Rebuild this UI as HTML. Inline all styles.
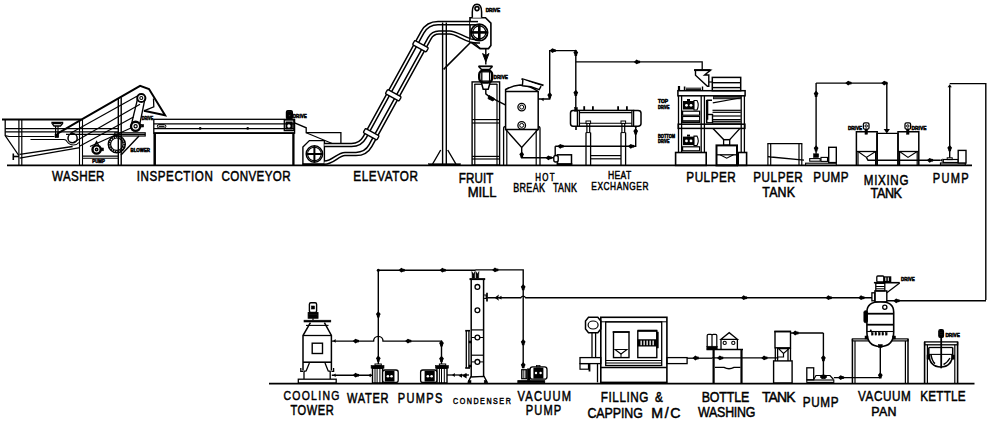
<!DOCTYPE html>
<html><head><meta charset="utf-8"><style>
html,body{margin:0;padding:0;background:#fff;width:990px;height:428px;overflow:hidden}
svg{display:block}
text{font-family:"Liberation Sans",sans-serif;fill:#000}
</style></head><body>
<svg width="990" height="428" viewBox="0 0 990 428" stroke="#000" fill="none" stroke-linecap="butt" stroke-linejoin="miter">
<line x1="7" y1="165.4" x2="972" y2="165.4" stroke-width="1.8"/>
<path d="M2 119.6 H81.5" stroke-width="2" fill="none"/>
<path d="M5.2 119.8 V135.6 L18.8 155.5" stroke-width="1.3" fill="none"/>
<line x1="18.9" y1="120" x2="18.9" y2="165" stroke-width="1.2"/>
<line x1="21.8" y1="120" x2="21.8" y2="165" stroke-width="1.2"/>
<line x1="79.5" y1="119.6" x2="79.5" y2="165" stroke-width="1.1"/>
<line x1="82.5" y1="119.6" x2="82.5" y2="165" stroke-width="1.1"/>
<line x1="5.2" y1="128.6" x2="118.3" y2="128.6" stroke-width="1.2"/>
<line x1="5.2" y1="131.8" x2="118.3" y2="131.8" stroke-width="1.2"/>
<path d="M5.2 135.6 L9 136.5 H54.5" stroke-width="1.1" fill="none"/>
<path d="M30.5 139.5 H64 Q66 139.5 67 141.5 Q69.5 145 73.5 145 Q77 145 79 142.5" stroke-width="1.1" fill="none"/>
<path d="M52 122.4 H62.6 V123.4 L60.5 126 H54 L52 123.4 Z" stroke-width="1.3" fill="#fff"/>
<line x1="53" y1="123.6" x2="61.6" y2="123.6" stroke-width="1.2"/>
<line x1="55.6" y1="126" x2="55.6" y2="137.5" stroke-width="1.2"/>
<line x1="58" y1="126" x2="58" y2="137.5" stroke-width="1.2"/>
<rect x="55" y="134" width="3.6" height="3.6" stroke-width="0.5" fill="#000" rx="0"/>
<path d="M19.6 154.4 L72.6 146.5" stroke-width="1.3" fill="none"/>
<path d="M19.6 158.1 L80 147.6" stroke-width="1.3" fill="none"/>
<line x1="13.3" y1="153.5" x2="13.3" y2="160" stroke-width="1.6"/>
<line x1="13.3" y1="156.5" x2="19" y2="156.5" stroke-width="1.6"/>
<path d="M57 133.8 L81.4 119.6 L140.1 85.8 L149 89 L165.1 115.3 L143.9 110.8" stroke-width="2" fill="none"/>
<path d="M153.5 98.6 L153.8 106.8 L143.9 110.8" stroke-width="1.3" fill="none"/>
<path d="M70 133.6 L137.8 95.8" stroke-width="1.2" fill="none"/>
<path d="M73 142.8 L140 104.2" stroke-width="1.2" fill="none"/>
<path d="M80 146 L133.5 117" stroke-width="1.2" fill="none"/>
<path d="M90 146.5 L131.5 127.8" stroke-width="1.2" fill="none"/>
<circle cx="72.6" cy="138.2" r="4.6" stroke-width="1.5" fill="none"/>
<line x1="118.3" y1="98.8" x2="118.3" y2="165" stroke-width="1.4"/>
<line x1="121.2" y1="97.2" x2="121.2" y2="165" stroke-width="1.4"/>
<circle cx="141.3" cy="98" r="4.1" stroke-width="2" fill="none"/>
<circle cx="141.3" cy="98" r="1.5" stroke-width="1.1" fill="none"/>
<circle cx="135.6" cy="126.3" r="4.6" stroke-width="2.4" fill="none"/>
<circle cx="135.6" cy="126.3" r="1.6" stroke-width="1.2" fill="none"/>
<line x1="137.5" y1="99" x2="131.5" y2="124" stroke-width="1.3"/>
<line x1="144.8" y1="99.5" x2="139.7" y2="124.5" stroke-width="1.3"/>
<rect x="141.4" y="124.5" width="2.2" height="2.5" stroke-width="0.6" fill="#000" rx="0"/>
<text x="141.8" y="119.6" font-size="4.5" font-weight="bold" stroke="#000" stroke-width="0.5" textLength="11.5" lengthAdjust="spacingAndGlyphs">DRIVE</text>
<line x1="66" y1="134.3" x2="145.2" y2="134.3" stroke-width="1.3"/>
<rect x="114.8" y="132.8" width="30.4" height="3.2" stroke-width="1.2" fill="none" rx="0"/>
<path d="M121 155 L139 136" stroke-width="1.4" fill="none"/>
<line x1="82.2" y1="156.2" x2="118.3" y2="156.2" stroke-width="1.3"/>
<line x1="82.2" y1="158.2" x2="118.3" y2="158.2" stroke-width="1.1"/>
<circle cx="116.8" cy="144.2" r="8.5" stroke-width="1.5" fill="none"/>
<circle cx="116.8" cy="144.2" r="6.2" stroke-width="1.2" fill="none"/>
<circle cx="116.8" cy="144.2" r="7.35" stroke-width="1.6" stroke-dasharray="1.3 1.1" fill="none"/>
<text x="130.5" y="152.3" font-size="4.5" font-weight="bold" stroke="#000" stroke-width="0.5" textLength="19.5" lengthAdjust="spacingAndGlyphs">BLOWER</text>
<circle cx="96.6" cy="149.5" r="4.1" stroke-width="2.4" fill="none"/>
<circle cx="96.6" cy="149.5" r="1.2" stroke-width="1.5" fill="none"/>
<path d="M94.5 145.5 L96.6 141.5 L98.7 145.5" stroke-width="1.2" fill="none"/>
<rect x="101" y="148" width="2.4" height="2.8" stroke-width="0.6" fill="#000" rx="0"/>
<text x="92.3" y="163.4" font-size="4.5" font-weight="bold" stroke="#000" stroke-width="0.5" textLength="12.5" lengthAdjust="spacingAndGlyphs">PUMP</text>
<rect x="153.8" y="119.3" width="140.8" height="13.8" stroke-width="1.3" fill="none" rx="0"/>
<line x1="153.8" y1="123.8" x2="294.6" y2="123.8" stroke-width="1.2"/>
<line x1="153.8" y1="128.7" x2="294.6" y2="128.7" stroke-width="1.2"/>
<line x1="154.7" y1="133" x2="154.7" y2="165" stroke-width="2.5"/>
<line x1="293.4" y1="133" x2="293.4" y2="165" stroke-width="2.3"/>
<rect x="157.3" y="124.6" width="8.6" height="3.4" stroke-width="1" fill="none" rx="1.7"/>
<line x1="158.7" y1="126.3" x2="164.5" y2="126.3" stroke-width="1.2"/>
<circle cx="200.2" cy="128.4" r="1.3" fill="#000" stroke="none"/>
<circle cx="247.7" cy="128.4" r="1.3" fill="#000" stroke="none"/>
<rect x="284.3" y="120" width="9.5" height="10.6" stroke-width="1.3" fill="none" rx="0"/>
<rect x="286" y="122" width="6.2" height="7" stroke-width="1" fill="#000" rx="0"/>
<circle cx="288.9" cy="126" r="1.7" fill="#fff" stroke="none"/>
<rect x="286.4" y="110.6" width="6" height="8.4" stroke-width="1.2" fill="#000" rx="1.5"/>
<rect x="287.6" y="111.8" width="3.6" height="1" fill="#fff"/><rect x="288.6" y="114.5" width="1.6" height="1.6" fill="#fff"/>
<text x="292.8" y="117.8" font-size="5" font-weight="bold" stroke="#000" stroke-width="0.5" textLength="14" lengthAdjust="spacingAndGlyphs">DRIVE</text>
<line x1="153.8" y1="133.1" x2="294.6" y2="133.1" stroke-width="1.7"/>
<path d="M294.6 122.9 L306.2 127.8 V132.7 H340.9 V144.2" stroke-width="1.3" fill="none"/>
<path d="M306.2 132.7 L334 144.2" stroke-width="1.2" fill="none"/>
<path d="M302.9 165 V147 L309.4 140.6 H324.4 V165" stroke-width="1.4" fill="none"/>
<circle cx="314.4" cy="154" r="8.2" stroke-width="1.5" fill="none"/>
<circle cx="314.4" cy="154" r="6.8" stroke-width="1.1" fill="none"/>
<line x1="314.4" y1="146" x2="314.4" y2="162" stroke-width="2"/>
<line x1="306.4" y1="154" x2="322.4" y2="154" stroke-width="2"/>
<rect x="303" y="163.4" width="21.4" height="2" stroke-width="0.5" fill="#000" rx="0"/>
<path d="M470.5 23.2 H438 Q427.5 23.2 422.4 32.4 L364.8 137.1 Q360.5 145 351.5 145 H324.4" stroke="#000" stroke-width="4.7" fill="none" stroke-linejoin="round"/>
<path d="M470.5 23.2 H438 Q427.5 23.2 422.4 32.4 L364.8 137.1 Q360.5 145 351.5 145 H324.4" stroke="#fff" stroke-width="1.7" fill="none" stroke-linejoin="round"/>
<path d="M470.8 40.4 C462 38 456 32.5 449.7 32.5 H439 Q432.7 32.5 429.5 38.3 L370.5 145.5 Q365.8 154 356 154 H345 C338 154 333 162.7 324.4 162.7" stroke="#000" stroke-width="4.7" fill="none" stroke-linejoin="round"/>
<path d="M470.8 40.4 C462 38 456 32.5 449.7 32.5 H439 Q432.7 32.5 429.5 38.3 L370.5 145.5 Q365.8 154 356 154 H345 C338 154 333 162.7 324.4 162.7" stroke="#fff" stroke-width="1.7" fill="none" stroke-linejoin="round"/>
<g transform="translate(420.5 46.2) rotate(28.8)"><rect x="-7.8" y="-2.4" width="15.6" height="4.8" rx="1" fill="#fff" stroke="#000" stroke-width="1.4"/></g>
<g transform="translate(393.3 95.3) rotate(28.8)"><rect x="-7.8" y="-2.4" width="15.6" height="4.8" rx="1" fill="#fff" stroke="#000" stroke-width="1.4"/></g>
<g transform="translate(371.2 134.2) rotate(28.8)"><rect x="-7.8" y="-2.4" width="15.6" height="4.8" rx="1" fill="#fff" stroke="#000" stroke-width="1.4"/></g>
<line x1="442.6" y1="22.5" x2="442.6" y2="165" stroke-width="1.4"/>
<line x1="446.3" y1="22.5" x2="446.3" y2="165" stroke-width="1.4"/>
<path d="M432.6 164 L440.7 150 M447.7 150 L455.9 164" stroke-width="1.4" fill="none"/>
<rect x="428.5" y="163.6" width="32" height="1.8" stroke-width="0.4" fill="#000" rx="0"/>
<path d="M443.6 69.4 L472 41" stroke-width="1.6" fill="none"/>
<path d="M470 17.7 H485.5 L490.9 23.1 V45.5 L488.5 48.6 H480 L470 41.7 Z" stroke-width="1.6" fill="#fff"/>
<path d="M470 23.2 H478" stroke="#000" stroke-width="4.7" fill="none" stroke-linejoin="round"/>
<path d="M470 23.2 H478" stroke="#fff" stroke-width="1.7" fill="none" stroke-linejoin="round"/>
<path d="M470 40.4 C474 41.5 477 41.6 480 41.5" stroke="#000" stroke-width="4.7" fill="none" stroke-linejoin="round"/>
<path d="M470 40.4 C474 41.5 477 41.6 480 41.5" stroke="#fff" stroke-width="1.7" fill="none" stroke-linejoin="round"/>
<circle cx="479.3" cy="32.4" r="8.3" stroke-width="1.8" fill="none"/>
<circle cx="479.3" cy="32.4" r="6.5" stroke-width="1.2" fill="none"/>
<line x1="479.3" y1="24.2" x2="479.3" y2="40.6" stroke-width="2.6"/>
<line x1="471" y1="32.4" x2="487.6" y2="32.4" stroke-width="2.6"/>
<path d="M474.5 42.8 L480.5 48.6" stroke-width="1.1" fill="none"/>
<path d="M472.3 17.7 V12 Q472.3 4.2 477 4.2 Q481.6 4.2 481.6 12 V17.7" stroke-width="1.5" fill="#fff"/>
<circle cx="477" cy="8.6" r="2" stroke-width="1.6" fill="none"/>
<text x="485.7" y="11.8" font-size="5" font-weight="bold" stroke="#000" stroke-width="0.5" textLength="14.5" lengthAdjust="spacingAndGlyphs">DRIVE</text>
<line x1="485.8" y1="48.6" x2="485.8" y2="64.5" stroke-width="1.4"/>
<path d="M482.6 53.5 L485.8 55.5 L489 53.5 L485.8 61.8 Z" fill="#000" stroke="#000" stroke-width="1"/>
<rect x="472.1" y="81.9" width="27.5" height="83.2" stroke-width="1.4" fill="none" rx="0"/>
<line x1="474.8" y1="84" x2="474.8" y2="165" stroke-width="1.2"/>
<line x1="497" y1="84" x2="497" y2="165" stroke-width="1.2"/>
<line x1="472.1" y1="119.6" x2="499.6" y2="119.6" stroke-width="1.2"/>
<line x1="472.1" y1="123" x2="499.6" y2="123" stroke-width="1.2"/>
<line x1="472.1" y1="156.4" x2="499.6" y2="156.4" stroke-width="1.2"/>
<line x1="472.1" y1="159" x2="499.6" y2="159" stroke-width="1.2"/>
<line x1="474.4" y1="84.2" x2="497.2" y2="84.2" stroke-width="1.3"/>
<path d="M481.5 83 L483.2 89.2 H488.2 L490 83" stroke-width="1.5" fill="#fff"/>
<line x1="478.5" y1="66.3" x2="492.5" y2="66.3" stroke-width="1.8"/>
<path d="M478.5 66.3 L481.5 69.6 H489.5 L492.5 66.3" stroke-width="1.5" fill="none"/>
<rect x="479.2" y="70.3" width="13" height="12.3" rx="4.5" stroke-width="2.4" fill="#fff"/>
<rect x="481.8" y="71.8" width="7.8" height="9.3" stroke-width="1.3" fill="none" rx="0"/>
<text x="493.5" y="79" font-size="5.3" font-weight="bold" stroke="#000" stroke-width="0.5" textLength="14.5" lengthAdjust="spacingAndGlyphs">DRIVE</text>
<path d="M485.8 89.2 V93.8 L489.5 96.8 L505.3 104.9" stroke-width="1.4" fill="none"/>
<path d="M489 95.5 L494.3 98.4 L493 101 L488 98.6 Z" fill="#000"/>
<path d="M505.6 129.4 V89.5 Q513 85.5 520 85 Q530 85.5 538.2 91.5 V129.4 Z" stroke-width="1.5" fill="none"/>
<line x1="505.6" y1="91.5" x2="538.2" y2="91.5" stroke-width="1.4"/>
<path d="M505.6 129.4 L521.7 147.4 L538 129.4" stroke-width="1.4" fill="none"/>
<path d="M503.6 165 V128.5 Q503.6 126.3 505.6 126.3" stroke-width="1.3" fill="none"/>
<path d="M540 165 V128.5 Q540 126.3 538.2 126.3" stroke-width="1.3" fill="none"/>
<line x1="506.8" y1="130" x2="506.8" y2="165" stroke-width="1.2"/>
<line x1="536.2" y1="130" x2="536.2" y2="165" stroke-width="1.2"/>
<circle cx="521.7" cy="107.1" r="3.8" stroke-width="1.3" fill="none"/>
<circle cx="521.7" cy="107.1" r="2" stroke-width="1" fill="none"/>
<circle cx="521.7" cy="125.4" r="3.8" stroke-width="1.3" fill="none"/>
<circle cx="521.7" cy="125.4" r="2" stroke-width="1" fill="none"/>
<path d="M521.5 78.9 L543.5 85.4" stroke-width="1.9" fill="none"/>
<path d="M522.9 79.4 L522.4 85.8 Q531 86 539.2 89.6 L541.1 86.2" stroke-width="1.4" fill="#fff"/>
<path d="M521.7 147.4 V157.8 H554" stroke-width="1.4" fill="none"/>
<path d="M521.70 151.40 L519.30 154.20 L520.20 155.80 L520.50 157.70 L522.90 157.70 L523.20 155.80 L524.10 154.20Z" fill="#000" stroke="none"/>
<path d="M545.50 157.80 L548.30 155.40 L549.90 156.30 L551.80 156.60 L551.80 159.00 L549.90 159.30 L548.30 160.20Z" fill="#000" stroke="none"/>
<path d="M538.2 99 H549.7 V50.6 H575.8 V108.4" stroke-width="1.4" fill="none"/>
<path d="M549.60 50.60 L552.40 48.20 L554.00 49.10 L555.90 49.40 L555.90 51.80 L554.00 52.10 L552.40 53.00Z" fill="#000" stroke="none"/>
<path d="M575.80 49.60 L573.40 52.40 L574.30 54.00 L574.60 55.90 L577.00 55.90 L577.30 54.00 L578.20 52.40Z" fill="#000" stroke="none"/>
<path d="M575.80 89.80 L573.40 92.60 L574.30 94.20 L574.60 96.10 L577.00 96.10 L577.30 94.20 L578.20 92.60Z" fill="#000" stroke="none"/>
<path d="M549.70 92.10 L547.30 94.90 L548.20 96.50 L548.50 98.40 L550.90 98.40 L551.20 96.50 L552.10 94.90Z" fill="#000" stroke="none"/>
<path d="M543.6 97.68 L543.6 101.32 L541 99.5Z" fill="#000" stroke="none"/>
<path d="M575.8 61.9 H702.2 V69.6" stroke-width="1.3" fill="none"/>
<path d="M633.80 61.90 L636.60 59.50 L638.20 60.40 L640.10 60.70 L640.10 63.10 L638.20 63.40 L636.60 64.30Z" fill="#000" stroke="none"/>
<rect x="557.5" y="154.8" width="14" height="9.7" stroke-width="1.5" fill="#fff"/>
<rect x="553.8" y="155.5" width="4.4" height="6.5" rx="2" stroke-width="1.4" fill="#fff"/>
<rect x="557" y="163.3" width="15" height="1.6" stroke-width="0.5" fill="#000" rx="0"/>
<path d="M555.2 146.3 V155.5" stroke-width="1.4" fill="none"/>
<path d="M555.2 146.3 H635.7 V126.2" stroke-width="1.4" fill="none"/>
<path d="M557.40 146.30 L560.20 143.90 L561.80 144.80 L563.70 145.10 L563.70 147.50 L561.80 147.80 L560.20 148.70Z" fill="#000" stroke="none"/>
<path d="M627.90 146.30 L630.70 143.90 L632.30 144.80 L634.20 145.10 L634.20 147.50 L632.30 147.80 L630.70 148.70Z" fill="#000" stroke="none"/>
<path d="M635.70 128.30 L633.30 131.10 L634.20 132.70 L634.50 134.60 L636.90 134.60 L637.20 132.70 L638.10 131.10Z" fill="#000" stroke="none"/>
<path d="M633.95 130.8 L637.45 130.8 L635.7 128.3Z" fill="#000" stroke="none"/>
<rect x="577.5" y="110.4" width="56" height="15.8" stroke-width="1.5" fill="none" rx="0"/>
<line x1="579.5" y1="112.6" x2="631.8" y2="112.6" stroke-width="1.1"/>
<line x1="579.5" y1="123.3" x2="631.8" y2="123.3" stroke-width="1.1"/>
<path d="M577.5 110.4 H573 Q570.5 110.4 570.5 113 V123.6 Q570.5 126.2 573 126.2 H577.5" stroke-width="1.5" fill="none"/>
<path d="M633.5 110.4 H638 Q641 110.4 641 113 V123.6 Q641 126.2 638 126.2 H633.5" stroke-width="1.5" fill="none"/>
<line x1="579.5" y1="110.4" x2="579.5" y2="126.2" stroke-width="1.1"/>
<line x1="631.8" y1="110.4" x2="631.8" y2="126.2" stroke-width="1.1"/>
<line x1="584.2" y1="106.2" x2="584.2" y2="110.4" stroke-width="1.8"/>
<line x1="592.9" y1="106.2" x2="592.9" y2="110.4" stroke-width="1.8"/>
<line x1="618.1" y1="106.2" x2="618.1" y2="110.4" stroke-width="1.8"/>
<line x1="626.9" y1="106.2" x2="626.9" y2="110.4" stroke-width="1.8"/>
<rect x="574.6" y="107.6" width="2.8" height="3.6" stroke-width="0.5" fill="#000" rx="0"/>
<line x1="576" y1="126.2" x2="576" y2="130" stroke-width="1.6"/>
<line x1="635.7" y1="126.2" x2="635.7" y2="128" stroke-width="1.6"/>
<rect x="586" y="121" width="4.6" height="2.4" stroke-width="1" fill="#fff" rx="0"/>
<line x1="586.9" y1="123.4" x2="586.9" y2="132.6" stroke-width="1.2"/>
<line x1="589.7" y1="123.4" x2="589.7" y2="132.6" stroke-width="1.2"/>
<line x1="586" y1="132.6" x2="586" y2="165" stroke-width="1.3"/>
<line x1="590.6" y1="132.6" x2="590.6" y2="165" stroke-width="1.3"/>
<line x1="586" y1="132.6" x2="590.6" y2="132.6" stroke-width="1"/>
<rect x="621" y="121" width="4.6" height="2.4" stroke-width="1" fill="#fff" rx="0"/>
<line x1="621.9" y1="123.4" x2="621.9" y2="132.6" stroke-width="1.2"/>
<line x1="624.7" y1="123.4" x2="624.7" y2="132.6" stroke-width="1.2"/>
<line x1="621" y1="132.6" x2="621" y2="165" stroke-width="1.3"/>
<line x1="625.6" y1="132.6" x2="625.6" y2="165" stroke-width="1.3"/>
<line x1="621" y1="132.6" x2="625.6" y2="132.6" stroke-width="1"/>
<line x1="590.6" y1="155.6" x2="621" y2="155.6" stroke-width="1.2"/>
<line x1="590.6" y1="158.8" x2="621" y2="158.8" stroke-width="1.2"/>
<path d="M694.1 70.1 H710.6 L704.6 75 H708.8 V86.2 L707.4 86.2 L695.5 75.3 V70.1" stroke-width="1.4" fill="none"/>
<line x1="694.1" y1="70.1" x2="710.6" y2="70.1" stroke-width="2"/>
<line x1="708.8" y1="82" x2="712.3" y2="82" stroke-width="1.2"/>
<rect x="712.3" y="77.4" width="28.4" height="13.3" stroke-width="1.5" fill="none" rx="0"/>
<line x1="712.3" y1="82.7" x2="740.7" y2="82.7" stroke-width="1.4"/>
<line x1="712.3" y1="87.6" x2="740.7" y2="87.6" stroke-width="1.4"/>
<rect x="677.9" y="90.7" width="67.2" height="5.1" stroke-width="1.5" fill="none" rx="0"/>
<rect x="678.2" y="124.2" width="66.7" height="4.2" stroke-width="1.5" fill="none" rx="0"/>
<line x1="678.5" y1="95.8" x2="678.5" y2="152.5" stroke-width="1.3"/>
<line x1="681.6" y1="95.8" x2="681.6" y2="152.5" stroke-width="1.3"/>
<line x1="701.2" y1="95.8" x2="701.2" y2="152.5" stroke-width="1.3"/>
<line x1="704.4" y1="95.8" x2="704.4" y2="152.5" stroke-width="1.3"/>
<line x1="741.2" y1="95.8" x2="741.2" y2="152.5" stroke-width="1.3"/>
<line x1="744.4" y1="95.8" x2="744.4" y2="152.5" stroke-width="1.3"/>
<line x1="679" y1="86" x2="679" y2="90.7" stroke-width="2.2"/>
<line x1="684.6" y1="86.5" x2="684.6" y2="90.7" stroke-width="1.6"/>
<line x1="702.5" y1="86.5" x2="702.5" y2="90.7" stroke-width="1.4"/>
<line x1="686" y1="88.2" x2="701" y2="88.2" stroke-width="1"/>
<line x1="686" y1="89.6" x2="701" y2="89.6" stroke-width="1"/>
<path d="M683 101 H694 V109.5 H683 Z" fill="#000" stroke="none"/>
<path d="M694 100.5 H697 Q699.5 105 697 110 H694 Z" fill="none" stroke="#000" stroke-width="1.1"/>
<circle cx="686.5" cy="105.3" r="1.4" fill="#fff" stroke="none"/>
<circle cx="691" cy="105.3" r="1.4" fill="#fff" stroke="none"/>
<rect x="687" y="99" width="3" height="2" fill="#000" stroke="none"/>
<rect x="682.6" y="111.2" width="17" height="4" stroke-width="1.2" fill="none" rx="0"/>
<path d="M683 136.6 H694 V145.1 H683 Z" fill="#000" stroke="none"/>
<path d="M694 136.1 H697 Q699.5 140.6 697 145.6 H694 Z" fill="none" stroke="#000" stroke-width="1.1"/>
<circle cx="686.5" cy="140.9" r="1.4" fill="#fff" stroke="none"/>
<circle cx="691" cy="140.9" r="1.4" fill="#fff" stroke="none"/>
<rect x="687" y="134.6" width="3" height="2" fill="#000" stroke="none"/>
<rect x="682.6" y="146.79999999999998" width="17" height="4" stroke-width="1.2" fill="none" rx="0"/>
<rect x="682.6" y="116.5" width="17" height="6" stroke-width="1.1" fill="none" rx="0"/>
<line x1="683" y1="121" x2="699.5" y2="121" stroke-width="1.6"/>
<path d="M707.5 119.7 V100.2 H712" stroke-width="1.6" fill="none"/>
<path d="M706.5 100 V122.5" stroke-width="1.2" fill="none"/>
<rect x="706.7" y="114.5" width="5.8" height="8.3" stroke-width="1.4" fill="none" rx="0"/>
<rect x="713.5" y="96.6" width="27" height="2.2" stroke-width="0.8" fill="#555" rx="0"/>
<path d="M712.8 102.8 L739.8 98" stroke-width="1.2" fill="none"/>
<line x1="712.5" y1="110.3" x2="740.8" y2="110.3" stroke-width="1.2"/>
<line x1="712.5" y1="112.3" x2="740.8" y2="112.3" stroke-width="1.2"/>
<line x1="712.5" y1="116" x2="740.8" y2="116" stroke-width="1.2"/>
<line x1="712.5" y1="119.6" x2="740.8" y2="119.6" stroke-width="1.2"/>
<line x1="712.5" y1="121.3" x2="740.8" y2="121.3" stroke-width="1.2"/>
<line x1="712.5" y1="123.1" x2="740.8" y2="123.1" stroke-width="1.2"/>
<path d="M713 128.4 L723.6 139.6 H729.7 L740 128.4" stroke-width="1.4" fill="none"/>
<rect x="723.6" y="139.6" width="6.1" height="5.6" stroke-width="1.3" fill="none" rx="0"/>
<rect x="716.5" y="145.4" width="20.5" height="20" stroke-width="2" fill="none" rx="0"/>
<line x1="716.5" y1="154.8" x2="737" y2="154.8" stroke-width="1.3"/>
<path d="M720 154.8 L726.7 158.2 L733.5 154.8" stroke-width="1.2" fill="none"/>
<rect x="675.6" y="152.5" width="30.6" height="12.9" stroke-width="1.6" fill="none" rx="0"/>
<rect x="738.2" y="152.5" width="8.4" height="12.9" stroke-width="1.6" fill="none" rx="0"/>
<text x="658" y="103.2" font-size="4.8" font-weight="bold" stroke="#000" stroke-width="0.5" textLength="10" lengthAdjust="spacingAndGlyphs">TOP</text>
<text x="658" y="108.8" font-size="4.8" font-weight="bold" stroke="#000" stroke-width="0.5" textLength="11.5" lengthAdjust="spacingAndGlyphs">DRIVE</text>
<text x="658" y="137.8" font-size="4.8" font-weight="bold" stroke="#000" stroke-width="0.5" textLength="17" lengthAdjust="spacingAndGlyphs">BOTTOM</text>
<text x="658" y="143.4" font-size="4.8" font-weight="bold" stroke="#000" stroke-width="0.5" textLength="11.5" lengthAdjust="spacingAndGlyphs">DRIVE</text>
<line x1="767.3" y1="143.7" x2="802.4" y2="143.7" stroke-width="1.3"/>
<line x1="767.9" y1="143.7" x2="767.9" y2="165" stroke-width="1.2"/>
<line x1="770.7" y1="143.7" x2="770.7" y2="165" stroke-width="1.2"/>
<line x1="799" y1="143.7" x2="799" y2="165" stroke-width="1.2"/>
<line x1="801.8" y1="143.7" x2="801.8" y2="165" stroke-width="1.2"/>
<path d="M767.9 156.6 L771 157 L804 160.2" stroke-width="1.3" fill="none"/>
<rect x="805.6" y="163.2" width="30.7" height="2.3" stroke-width="1.1" fill="none" rx="0"/>
<rect x="809.7" y="158.6" width="10.5" height="2.6" stroke-width="1.1" fill="none" rx="0"/>
<rect x="821" y="157.4" width="6.5" height="4" stroke-width="1.1" fill="none" rx="0"/>
<rect x="813.6" y="153.8" width="5" height="3.6" stroke-width="0.6" fill="#000" rx="0"/>
<rect x="828.7" y="147.3" width="7.6" height="15.3" stroke-width="1.4" fill="#fff" rx="0"/>
<line x1="816.1" y1="153.8" x2="816.1" y2="83.1" stroke-width="1.4"/>
<line x1="816.1" y1="83.1" x2="886.2" y2="83.1" stroke-width="1.4"/>
<path d="M816.10 90.60 L813.70 93.40 L814.60 95.00 L814.90 96.90 L817.30 96.90 L817.60 95.00 L818.50 93.40Z" fill="#000" stroke="none"/>
<path d="M816.10 145.30 L813.70 148.10 L814.60 149.70 L814.90 151.60 L817.30 151.60 L817.60 149.70 L818.50 148.10Z" fill="#000" stroke="none"/>
<path d="M845.30 83.10 L848.10 80.70 L849.70 81.60 L851.60 81.90 L851.60 84.30 L849.70 84.60 L848.10 85.50Z" fill="#000" stroke="none"/>
<path d="M881.30 83.10 L884.10 80.70 L885.70 81.60 L887.60 81.90 L887.60 84.30 L885.70 84.60 L884.10 85.50Z" fill="#000" stroke="none"/>
<path d="M886.8 83.1 V130" stroke-width="1.4" fill="none"/>
<path d="M883.65 129.1 L889.9499999999999 129.1 L886.8 133.6Z" fill="#000" stroke="none"/>
<path d="M856.4 165 V131.7 H877.1999999999999 V165" stroke-width="1.5" fill="none"/>
<line x1="858.0" y1="151.5" x2="858.0" y2="165" stroke-width="1.2"/>
<line x1="875.6" y1="151.5" x2="875.6" y2="165" stroke-width="1.2"/>
<line x1="856.4" y1="151.5" x2="877.1999999999999" y2="151.5" stroke-width="1.3"/>
<path d="M858.0 151.5 L866.4 157.4 L875.6 151.5" stroke-width="1.2" fill="none"/>
<rect x="863.4" y="122.8" width="5.6" height="6.4" rx="1.5" stroke-width="1.3" fill="#fff"/>
<rect x="865.0" y="129.2" width="2.4" height="5" stroke-width="0.6" fill="#000" rx="0"/>
<circle cx="866.1999999999999" cy="126" r="1.2" stroke-width="1" fill="none"/>
<path d="M898 165 V131.7 H918.8 V165" stroke-width="1.5" fill="none"/>
<line x1="899.6" y1="151.5" x2="899.6" y2="165" stroke-width="1.2"/>
<line x1="917.2" y1="151.5" x2="917.2" y2="165" stroke-width="1.2"/>
<line x1="898" y1="151.5" x2="918.8" y2="151.5" stroke-width="1.3"/>
<path d="M899.6 151.5 L908 157.4 L917.2 151.5" stroke-width="1.2" fill="none"/>
<rect x="905" y="122.8" width="5.6" height="6.4" rx="1.5" stroke-width="1.3" fill="#fff"/>
<rect x="906.6" y="129.2" width="2.4" height="5" stroke-width="0.6" fill="#000" rx="0"/>
<circle cx="907.8" cy="126" r="1.2" stroke-width="1" fill="none"/>
<path d="M876.9 165 V133.4 H898 V165" stroke-width="1.4" fill="none"/>
<text x="847.9" y="129.6" font-size="5.2" font-weight="bold" stroke="#000" stroke-width="0.5" textLength="14.2" lengthAdjust="spacingAndGlyphs">DRIVE</text>
<text x="911.5" y="129.6" font-size="5.2" font-weight="bold" stroke="#000" stroke-width="0.5" textLength="14.9" lengthAdjust="spacingAndGlyphs">DRIVE</text>
<path d="M866.4 157.4 L868 160.3 H940.5" stroke-width="1.4" fill="none"/>
<path d="M926.80 160.30 L929.60 157.90 L931.20 158.80 L933.10 159.10 L933.10 161.50 L931.20 161.80 L929.60 162.70Z" fill="#000" stroke="none"/>
<path d="M942.6 158.48000000000002 L942.6 162.12 L940 160.3Z" fill="#000" stroke="none"/>
<rect x="940.5" y="163" width="24.8" height="2.2" stroke-width="1.2" fill="none" rx="0"/>
<rect x="943.3" y="159.5" width="14.9" height="3" stroke-width="1.2" fill="none" rx="0"/>
<rect x="947.2" y="157.8" width="5" height="1.8" stroke-width="1" fill="none" rx="0"/>
<rect x="958.2" y="150.4" width="7.8" height="12.6" stroke-width="1.4" fill="#fff" rx="0"/>
<line x1="949.7" y1="157.8" x2="949.7" y2="86" stroke-width="1.4"/>
<path d="M949.70 145.00 L947.30 147.80 L948.20 149.40 L948.50 151.30 L950.90 151.30 L951.20 149.40 L952.10 147.80Z" fill="#000" stroke="none"/>
<path d="M947.6 87.2 L951.8000000000001 87.2 L949.7 84.2Z" fill="#000" stroke="none"/>
<path d="M949.7 83.6 H985.8 V300" stroke-width="1.4" fill="none"/>
<line x1="269" y1="383.6" x2="974.5" y2="383.6" stroke-width="1.8"/>
<rect x="309.4" y="302.8" width="7.2" height="9.6" stroke-width="1.4" fill="none" rx="1.5"/>
<rect x="311.5" y="306" width="3" height="3" stroke-width="0.6" fill="#000" rx="0"/>
<rect x="308.2" y="312.6" width="9.8" height="5.6" stroke-width="1" fill="#000" rx="0"/>
<rect x="309" y="314.8" width="8.2" height="1" fill="#fff"/>
<line x1="313" y1="318.2" x2="313" y2="320" stroke-width="1.2"/>
<rect x="304" y="320.2" width="26.8" height="1.8" stroke-width="0.6" fill="#000" rx="0"/>
<path d="M310.4 322.7 L303 335.5 V370.6 M331.4 370.6 V335.5 L324.4 322.7" stroke-width="1.5" fill="none"/>
<line x1="303" y1="335.5" x2="331.4" y2="335.5" stroke-width="1.3"/>
<line x1="306" y1="325.4" x2="328.5" y2="325.4" stroke-width="1.1"/>
<line x1="303" y1="362.2" x2="331.4" y2="362.2" stroke-width="1.6"/>
<rect x="312.2" y="343.2" width="10.3" height="10.3" stroke-width="1.4" fill="none" rx="0"/>
<path d="M309.4 363 L306.1 370.9 L304 371.3 V379 M325 363 L328.2 370.9 L330.2 371.3 V379" stroke-width="1.3" fill="none"/>
<path d="M300.8 368 V371.3 H303 M333.6 368 V371.3 H331.4" stroke-width="1.3" fill="none"/>
<rect x="298.3" y="379.2" width="37.9" height="3.8" stroke-width="1.3" fill="none" rx="0"/>
<path d="M331.8 341.1 H373.6 A4.7 4.7 0 0 1 383 341.1 H441.5 V364" stroke-width="1.4" fill="none"/>
<path d="M335.6 339.08 L335.6 342.71999999999997 L333 340.9Z" fill="#000" stroke="none"/>
<path d="M352.70 341.10 L355.50 338.70 L357.10 339.60 L359.00 339.90 L359.00 342.30 L357.10 342.60 L355.50 343.50Z" fill="#000" stroke="none"/>
<path d="M405.10 341.10 L407.90 338.70 L409.50 339.60 L411.40 339.90 L411.40 342.30 L409.50 342.60 L407.90 343.50Z" fill="#000" stroke="none"/>
<path d="M441.50 340.30 L439.10 343.10 L440.00 344.70 L440.30 346.60 L442.70 346.60 L443.00 344.70 L443.90 343.10Z" fill="#000" stroke="none"/>
<path d="M441.50 355.80 L439.10 358.60 L440.00 360.20 L440.30 362.10 L442.70 362.10 L443.00 360.20 L443.90 358.60Z" fill="#000" stroke="none"/>
<path d="M331.8 375.2 H372.2" stroke-width="1.4" fill="none"/>
<path d="M335.6 373.38 L335.6 377.02 L333 375.2Z" fill="#000" stroke="none"/>
<path d="M352.70 375.20 L355.50 372.80 L357.10 373.70 L359.00 374.00 L359.00 376.40 L357.10 376.70 L355.50 377.60Z" fill="#000" stroke="none"/>
<path d="M378.3 364 V270.2 H475.2" stroke-width="1.4" fill="none"/>
<path d="M378.30 311.20 L375.90 314.00 L376.80 315.60 L377.10 317.50 L379.50 317.50 L379.80 315.60 L380.70 314.00Z" fill="#000" stroke="none"/>
<path d="M378.30 355.40 L375.90 358.20 L376.80 359.80 L377.10 361.70 L379.50 361.70 L379.80 359.80 L380.70 358.20Z" fill="#000" stroke="none"/>
<path d="M398.50 270.20 L401.30 267.80 L402.90 268.70 L404.80 269.00 L404.80 271.40 L402.90 271.70 L401.30 272.60Z" fill="#000" stroke="none"/>
<path d="M439.50 270.20 L442.30 267.80 L443.90 268.70 L445.80 269.00 L445.80 271.40 L443.90 271.70 L442.30 272.60Z" fill="#000" stroke="none"/>
<rect x="372.5" y="368.2" width="10.1" height="14.8" stroke-width="1.4" fill="none" rx="0"/>
<line x1="375.0" y1="368.2" x2="375.0" y2="383" stroke-width="1"/>
<line x1="377.1" y1="368.2" x2="377.1" y2="383" stroke-width="1"/>
<line x1="379.9" y1="368.2" x2="379.9" y2="383" stroke-width="1"/>
<rect x="371.1" y="365.5" width="12.9" height="2.7" stroke-width="0.6" fill="#000" rx="0"/>
<rect x="375.0" y="364" width="6.3" height="1.6" stroke-width="1" fill="none" rx="0"/>
<rect x="382.6" y="370" width="15.599999999999966" height="12.399999999999977" rx="2.2" stroke-width="1.3" fill="#fff"/>
<rect x="384.8" y="370.8" width="9.67199999999998" height="10.799999999999978" fill="#000" stroke="none"/>
<circle cx="387.92" cy="376.2" r="1.3" fill="#fff" stroke="none"/>
<circle cx="391.508" cy="376.2" r="1.3" fill="#fff" stroke="none"/>
<rect x="436.9" y="368.2" width="10.1" height="14.8" stroke-width="1.4" fill="none" rx="0"/>
<line x1="439.4" y1="368.2" x2="439.4" y2="383" stroke-width="1"/>
<line x1="441.5" y1="368.2" x2="441.5" y2="383" stroke-width="1"/>
<line x1="444.29999999999995" y1="368.2" x2="444.29999999999995" y2="383" stroke-width="1"/>
<rect x="435.5" y="365.5" width="12.9" height="2.7" stroke-width="0.6" fill="#000" rx="0"/>
<rect x="439.4" y="364" width="6.3" height="1.6" stroke-width="1" fill="none" rx="0"/>
<rect x="420.6" y="370" width="16.299999999999955" height="12.399999999999977" rx="2.2" stroke-width="1.3" fill="#fff"/>
<rect x="424.594" y="370.8" width="10.105999999999971" height="10.799999999999978" fill="#000" stroke="none"/>
<circle cx="427.854" cy="376.2" r="1.3" fill="#fff" stroke="none"/>
<circle cx="431.60299999999995" cy="376.2" r="1.3" fill="#fff" stroke="none"/>
<path d="M370.8 373.44 L370.8 377.35999999999996 L368 375.4Z" fill="#000" stroke="none"/>
<path d="M447 375 H469" stroke-width="1.3" fill="none"/>
<path d="M454.8 373.04 L454.8 376.96 L452 375Z" fill="#000" stroke="none"/>
<path d="M464.9 373.18 L464.9 376.82 L467.5 375Z" fill="#000" stroke="none"/>
<circle cx="378.3" cy="270.2" r="1.5" fill="#000" stroke="none"/>
<line x1="471.2" y1="279.5" x2="471.2" y2="377" stroke-width="1.5"/>
<line x1="483.6" y1="279.5" x2="483.6" y2="377" stroke-width="1.5"/>
<line x1="469.5" y1="279.1" x2="485.2" y2="279.1" stroke-width="2"/>
<path d="M472.09999999999997 278 V275 L471.79999999999995 271.5 L473.4 274 L475.0 271.5 L474.7 275 V278 Z" fill="#000" stroke="#000" stroke-width="0.5"/>
<path d="M476.09999999999997 278 V275 L475.79999999999995 271.5 L477.4 274 L479.0 271.5 L478.7 275 V278 Z" fill="#000" stroke="#000" stroke-width="0.5"/>
<path d="M475.2 270.2 V271" stroke-width="1" fill="none"/>
<circle cx="477.4" cy="286.9" r="2.4" stroke-width="1.3" fill="none"/>
<circle cx="477.4" cy="310.3" r="2.4" stroke-width="1.3" fill="none"/>
<circle cx="477.4" cy="337.5" r="2.4" stroke-width="1.3" fill="none"/>
<circle cx="477.4" cy="361.9" r="2.4" stroke-width="1.3" fill="none"/>
<line x1="471.2" y1="337.5" x2="475" y2="337.5" stroke-width="1"/>
<line x1="479.8" y1="337.5" x2="483.6" y2="337.5" stroke-width="1"/>
<line x1="471.2" y1="361.9" x2="475" y2="361.9" stroke-width="1"/>
<line x1="479.8" y1="361.9" x2="483.6" y2="361.9" stroke-width="1"/>
<line x1="471.2" y1="329.9" x2="483.6" y2="329.9" stroke-width="1.2"/>
<line x1="471.2" y1="355.2" x2="483.6" y2="355.2" stroke-width="1.2"/>
<line x1="466.3" y1="331" x2="466.3" y2="368" stroke-width="1.3"/>
<line x1="468.9" y1="331" x2="468.9" y2="368" stroke-width="1.3"/>
<line x1="465.2" y1="330.7" x2="470" y2="330.7" stroke-width="1.6"/>
<line x1="465.2" y1="368" x2="470" y2="368" stroke-width="1.6"/>
<rect x="469" y="341" width="2.2" height="2" stroke-width="0.5" fill="#000" rx="0"/>
<rect x="469" y="365" width="2.2" height="2" stroke-width="0.5" fill="#000" rx="0"/>
<path d="M484.1 295 H486.2 V298.5 H484.1" stroke-width="1.2" fill="none"/>
<line x1="487" y1="292.8" x2="487" y2="301.5" stroke-width="1.7"/>
<path d="M467.9 382.8 L470.7 377 L484.1 376.4 L487.5 382.8" stroke-width="1.4" fill="none"/>
<rect x="468.5" y="380.5" width="2.5" height="2.4" stroke-width="0.5" fill="#000" rx="0"/>
<rect x="484.2" y="380.5" width="2.5" height="2.4" stroke-width="0.5" fill="#000" rx="0"/>
<path d="M487.5 297.7 H520.8 Q523.2 294.5 525.6 297.7 H872" stroke-width="1.4" fill="none"/>
<path d="M494.5 297.7 L499 294.6 L498 297.7 L499 300.8 Z M498 297.7 L501.5 295.8 V299.6 Z" fill="#000" stroke="none"/>
<path d="M475.2 269.9 H523.2 V367" stroke-width="1.4" fill="none"/>
<path d="M492.10 269.90 L494.90 267.50 L496.50 268.40 L498.40 268.70 L498.40 271.10 L496.50 271.40 L494.90 272.30Z" fill="#000" stroke="none"/>
<path d="M523.20 284.00 L520.80 286.80 L521.70 288.40 L522.00 290.30 L524.40 290.30 L524.70 288.40 L525.60 286.80Z" fill="#000" stroke="none"/>
<path d="M523.20 339.00 L520.80 341.80 L521.70 343.40 L522.00 345.30 L524.40 345.30 L524.70 343.40 L525.60 341.80Z" fill="#000" stroke="none"/>
<path d="M523.20 362.00 L520.80 364.80 L521.70 366.40 L522.00 368.30 L524.40 368.30 L524.70 366.40 L525.60 364.80Z" fill="#000" stroke="none"/>
<path d="M462 375.7 L466.6 373 V378.4 Z M458.5 375.7 L462 373.6 V377.8 Z" fill="#000" stroke="none"/>
<rect x="517.8" y="380.6" width="26.9" height="2" stroke-width="0.8" fill="#000" rx="0"/>
<rect x="521.7" y="369.7" width="5" height="9" stroke-width="1.2" fill="none" rx="0"/>
<line x1="523.2" y1="369.7" x2="523.2" y2="378.7" stroke-width="0.9"/>
<line x1="525.2" y1="369.7" x2="525.2" y2="378.7" stroke-width="0.9"/>
<rect x="527.3" y="368.8" width="2.8" height="11.6" stroke-width="0.5" fill="#000" rx="0"/>
<rect x="530.1" y="366.9" width="16.9" height="12.3" rx="2.5" stroke-width="1.3" fill="#fff"/>
<rect x="533.4" y="367.6" width="10" height="11" fill="#000" stroke="none"/>
<circle cx="536" cy="373" r="1.2" fill="#fff" stroke="none"/><circle cx="540.6" cy="373" r="1.2" fill="#fff" stroke="none"/>
<rect x="536.6" y="365.4" width="3.4" height="1.6" stroke-width="0.8" fill="none" rx="0"/>
<rect x="600.8" y="317.3" width="66.1" height="65.1" stroke-width="1.6" fill="none" rx="0"/>
<rect x="605.7" y="321.9" width="56" height="43.6" stroke-width="1.3" fill="none" rx="0"/>
<line x1="600.8" y1="321.8" x2="666.9" y2="321.8" stroke-width="1"/>
<line x1="605.7" y1="360.5" x2="661.7" y2="360.5" stroke-width="1.2"/>
<line x1="605.7" y1="363" x2="661.7" y2="363" stroke-width="1.2"/>
<line x1="600.8" y1="367.5" x2="666.9" y2="367.5" stroke-width="1.3"/>
<rect x="580" y="357.6" width="20.8" height="6" stroke-width="1.3" fill="none" rx="0"/>
<rect x="666.9" y="357.6" width="20.2" height="6" stroke-width="1.3" fill="none" rx="0"/>
<rect x="580" y="363.6" width="8.5" height="5.6" stroke-width="1.2" fill="none" rx="0"/>
<line x1="589.5" y1="363.6" x2="589.5" y2="371.5" stroke-width="1.8"/>
<line x1="592" y1="332.8" x2="592" y2="357.6" stroke-width="1.3"/>
<line x1="595.6" y1="332.8" x2="595.6" y2="357.6" stroke-width="1.3"/>
<line x1="597.5" y1="363.6" x2="597.5" y2="382.4" stroke-width="1.3"/>
<path d="M588.5 317.3 H597.8 L600.8 321 V329 L597.8 332.8 H588.5 L585.5 329 V321 Z" stroke-width="1.5" fill="none"/>
<ellipse cx="593.1" cy="325" rx="5" ry="4" stroke-width="1.2" fill="none"/>
<rect x="613.5" y="332" width="15.5" height="25.6" stroke-width="1.4" fill="none" rx="0"/>
<line x1="612.7" y1="332" x2="629.5" y2="332" stroke-width="1.6"/>
<path d="M615 349.5 H627 L621 354 Z" stroke-width="1.1" fill="none"/>
<line x1="621" y1="354" x2="621" y2="357.6" stroke-width="1"/>
<rect x="637.8" y="331" width="19" height="26.6" stroke-width="1.4" fill="none" rx="0"/>
<line x1="637.5" y1="330.6" x2="657.3" y2="330.6" stroke-width="1.8"/>
<rect x="638" y="339.8" width="18.6" height="6.2" stroke-width="1" fill="#000" rx="0"/>
<rect x="640.5" y="340.6" width="1.3" height="4.6" fill="#fff" stroke="none"/>
<rect x="643.5" y="340.6" width="1.3" height="4.6" fill="#fff" stroke="none"/>
<rect x="646.5" y="340.6" width="1.3" height="4.6" fill="#fff" stroke="none"/>
<rect x="649.5" y="340.6" width="1.3" height="4.6" fill="#fff" stroke="none"/>
<rect x="652.5" y="340.6" width="1.3" height="4.6" fill="#fff" stroke="none"/>
<rect x="656.5" y="332" width="1.8" height="16" stroke-width="0.5" fill="#000" rx="0"/>
<path d="M687.1 358.2 H712" stroke-width="1.3" fill="none"/>
<path d="M692.50 358.00 L695.30 355.60 L696.90 356.50 L698.80 356.80 L698.80 359.20 L696.90 359.50 L695.30 360.40Z" fill="#000" stroke="none"/>
<line x1="713.6" y1="349.4" x2="713.6" y2="383" stroke-width="2.2"/>
<line x1="741.5" y1="349.4" x2="741.5" y2="383" stroke-width="2.2"/>
<line x1="706.5" y1="349.4" x2="743" y2="349.4" stroke-width="1.5"/>
<path d="M715 367.4 H724 Q729 370 734 367.4 H740.5" stroke-width="1.4" fill="none"/>
<path d="M707.2 347 V335.5 Q707.2 334.4 708.5 334.4 H711 Q712 334.4 712 335.5 V347 M712 347 V335.5 Q712 334.4 713.3 334.4 H715.5 Q716.8 334.4 716.8 335.5 V347" stroke-width="1.2" fill="none"/>
<rect x="706.8" y="346.2" width="10.5" height="3" stroke-width="0.5" fill="#000" rx="0"/>
<path d="M721 339.3 L729.2 332.7 L737.4 339.3 Z M721 339.3 V349.1 M737.4 339.3 V349.1" stroke-width="1.3" fill="none"/>
<circle cx="724.7" cy="342.9" r="1.6" stroke-width="1.1" fill="none"/>
<circle cx="733.3" cy="342.9" r="1.6" stroke-width="1.1" fill="none"/>
<path d="M712 357.9 H778.3" stroke-width="1.4" fill="none"/>
<path d="M717.00 357.90 L719.80 355.50 L721.40 356.40 L723.30 356.70 L723.30 359.10 L721.40 359.40 L719.80 360.30Z" fill="#000" stroke="none"/>
<path d="M761.20 357.90 L764.00 355.50 L765.60 356.40 L767.50 356.70 L767.50 359.10 L765.60 359.40 L764.00 360.30Z" fill="#000" stroke="none"/>
<rect x="775" y="331.4" width="15.5" height="16.4" stroke-width="1.4" fill="none" rx="0"/>
<line x1="774.3" y1="331.6" x2="791" y2="331.6" stroke-width="1.6"/>
<line x1="775.3" y1="347.8" x2="775.3" y2="360.9" stroke-width="1.3"/>
<line x1="777.6" y1="347.8" x2="777.6" y2="360.9" stroke-width="1.3"/>
<line x1="788" y1="347.8" x2="788" y2="360.9" stroke-width="1.3"/>
<line x1="790.5" y1="347.8" x2="790.5" y2="360.9" stroke-width="1.3"/>
<path d="M778.5 348.6 H789 L783.5 353.5 Z" stroke-width="1.2" fill="none"/>
<path d="M783.5 353.5 V357 H778" stroke-width="1.2" fill="none"/>
<rect x="773.6" y="360.9" width="18.5" height="22.1" stroke-width="1.4" fill="none" rx="0"/>
<path d="M790.5 333 H823.4" stroke-width="1.4" fill="none"/>
<path d="M792.30 333.00 L795.10 330.60 L796.70 331.50 L798.60 331.80 L798.60 334.20 L796.70 334.50 L795.10 335.40Z" fill="#000" stroke="none"/>
<path d="M823.40 355.00 L821.00 357.80 L821.90 359.40 L822.20 361.30 L824.60 361.30 L824.90 359.40 L825.80 357.80Z" fill="#000" stroke="none"/>
<rect x="806.8" y="367.8" width="6.9" height="12" stroke-width="1.3" fill="#fff" rx="0"/>
<rect x="806.8" y="380" width="27" height="2.4" stroke-width="1.1" fill="none" rx="0"/>
<path d="M813.7 379.5 L816 375.5 H830 L833.5 379.5" stroke-width="1.2" fill="none"/>
<ellipse cx="823.5" cy="376.8" rx="3" ry="1.8" fill="#000"/>
<line x1="823.4" y1="333" x2="823.4" y2="375" stroke-width="1.4"/>
<path d="M833.9 377.6 H880.3" stroke-width="1.4" fill="none"/>
<path d="M837.80 377.60 L840.60 375.20 L842.20 376.10 L844.10 376.40 L844.10 378.80 L842.20 379.10 L840.60 380.00Z" fill="#000" stroke="none"/>
<path d="M880.30 372.30 L877.90 375.10 L878.80 376.70 L879.10 378.60 L881.50 378.60 L881.80 376.70 L882.70 375.10Z" fill="#000" stroke="none"/>
<path d="M740.80 297.70 L743.60 295.30 L745.20 296.20 L747.10 296.50 L747.10 298.90 L745.20 299.20 L743.60 300.10Z" fill="#000" stroke="none"/>
<path d="M825.50 297.70 L828.30 295.30 L829.90 296.20 L831.80 296.50 L831.80 298.90 L829.90 299.20 L828.30 300.10Z" fill="#000" stroke="none"/>
<path d="M858.20 297.70 L861.00 295.30 L862.60 296.20 L864.50 296.50 L864.50 298.90 L862.60 299.20 L861.00 300.10Z" fill="#000" stroke="none"/>
<path d="M886.8 300.8 H986" stroke-width="1.4" fill="none"/>
<path d="M893.30 300.80 L896.10 298.40 L897.70 299.30 L899.60 299.60 L899.60 302.00 L897.70 302.30 L896.10 303.20Z" fill="#000" stroke="none"/>
<rect x="852.4" y="338.9" width="55.6" height="2" stroke-width="1.2" fill="none" rx="0"/>
<line x1="852.4" y1="338.9" x2="852.4" y2="383" stroke-width="1.5"/>
<line x1="855" y1="340.9" x2="855" y2="383" stroke-width="1.2"/>
<line x1="908" y1="338.9" x2="908" y2="383" stroke-width="1.5"/>
<line x1="905.4" y1="340.9" x2="905.4" y2="383" stroke-width="1.2"/>
<path d="M866.9 312 Q866.9 301.8 880.3 301.8 Q893.7 301.8 893.7 312 V332 Q893.7 346.5 880.3 346.5 Q866.9 346.5 866.9 332 Z" stroke-width="1.6" fill="#fff"/>
<line x1="866.9" y1="313.7" x2="893.7" y2="313.7" stroke-width="1.8"/>
<line x1="866.9" y1="324.7" x2="893.7" y2="324.7" stroke-width="1.8"/>
<line x1="867" y1="331.5" x2="893.6" y2="331.5" stroke-width="1.1"/>
<rect x="871.5" y="332.5" width="1.6" height="2.6" stroke-width="0.5" fill="#000" rx="0"/>
<rect x="875" y="332.5" width="1.6" height="2.6" stroke-width="0.5" fill="#000" rx="0"/>
<rect x="878.5" y="332.5" width="1.6" height="2.6" stroke-width="0.5" fill="#000" rx="0"/>
<rect x="882" y="332.5" width="1.6" height="2.6" stroke-width="0.5" fill="#000" rx="0"/>
<rect x="885.5" y="332.5" width="1.6" height="2.6" stroke-width="0.5" fill="#000" rx="0"/>
<circle cx="884.8" cy="307.2" r="2.1" stroke-width="1.3" fill="none"/>
<rect x="863.9" y="310.7" width="3.6" height="12" stroke-width="0.8" fill="#000" rx="1.6"/>
<circle cx="870.8" cy="330.6" r="1" fill="#000" stroke="none"/>
<rect x="865" y="336" width="3" height="3" stroke-width="0.5" fill="#000" rx="0"/>
<rect x="892.5" y="336" width="3" height="3" stroke-width="0.5" fill="#000" rx="0"/>
<rect x="874.9" y="290.9" width="11.9" height="10.9" stroke-width="1.4" fill="#fff" rx="0"/>
<rect x="871.9" y="292.8" width="3" height="8" stroke-width="1.3" fill="none" rx="0"/>
<rect x="875.8" y="283.3" width="9" height="7.6" stroke-width="1.3" fill="none" rx="0"/>
<line x1="876" y1="286.5" x2="884.6" y2="286.5" stroke-width="1"/>
<line x1="876" y1="288.8" x2="884.6" y2="288.8" stroke-width="1"/>
<line x1="873.9" y1="282.7" x2="899.7" y2="282.7" stroke-width="1.6"/>
<path d="M899.7 282.9 L886.8 292.8" stroke-width="1.2" fill="none"/>
<rect x="876.8" y="276" width="7" height="6" rx="1" stroke-width="1.3" fill="#fff"/>
<rect x="883.8" y="276.3" width="7.5" height="5.8" fill="#000" stroke="none"/>
<rect x="885.3" y="277.5" width="1" height="3.4" fill="#fff" stroke="none"/><rect x="887.8" y="277.5" width="1" height="3.4" fill="#fff" stroke="none"/>
<text x="901" y="280.5" font-size="5" font-weight="bold" stroke="#000" stroke-width="0.5" textLength="13.6" lengthAdjust="spacingAndGlyphs">DRIVE</text>
<path d="M880.3 346.5 V377.6" stroke-width="1.4" fill="none"/>
<rect x="878.4" y="344.5" width="3.8" height="3" stroke-width="0.5" fill="#000" rx="0"/>
<rect x="924.6" y="341.9" width="33" height="2.9" stroke-width="1.3" fill="none" rx="0"/>
<line x1="924.6" y1="341.9" x2="924.6" y2="383" stroke-width="1.6"/>
<line x1="927.4" y1="344.8" x2="927.4" y2="383" stroke-width="1.2"/>
<line x1="957.6" y1="341.9" x2="957.6" y2="383" stroke-width="1.6"/>
<line x1="954.8" y1="344.8" x2="954.8" y2="383" stroke-width="1.2"/>
<rect x="938.8" y="329.7" width="4.7" height="7.7" rx="1.5" stroke-width="1.2" fill="#000"/>
<rect x="939.8" y="331.5" width="2.7" height="0.8" fill="#fff"/><rect x="939.8" y="333.5" width="2.7" height="0.8" fill="#fff"/>
<line x1="928.8" y1="347.5" x2="952.7" y2="347.5" stroke-width="1.3"/>
<path d="M928.8 347.5 V354.4 Q929.5 366.8 940.8 367 Q952 366.8 952.7 354.4 V347.5" stroke-width="1.5" fill="none"/>
<line x1="929" y1="354.4" x2="952.5" y2="354.4" stroke-width="1.1"/>
<path d="M931 354.6 Q932 361 935 363.6 M950 358 Q947 363 943.5 364.5" stroke-width="1.4" fill="none"/>
<rect x="927" y="355" width="3" height="4.2" stroke-width="0.5" fill="#000" rx="0"/>
<rect x="951.6" y="355" width="3" height="4.2" stroke-width="0.5" fill="#000" rx="0"/>
<line x1="941.2" y1="337.4" x2="941.2" y2="368.3" stroke-width="1.8"/>
<text x="945.4" y="337" font-size="5" font-weight="bold" stroke="#000" stroke-width="0.5" textLength="14.5" lengthAdjust="spacingAndGlyphs">DRIVE</text>
<text transform="scale(0.8,1)" x="65.10" y="181.0" font-size="14.53" stroke="#000" stroke-width="0.5" textLength="65.45" lengthAdjust="spacing">WASHER</text>
<text transform="scale(0.8,1)" x="170.90" y="181.0" font-size="14.53" stroke="#000" stroke-width="0.5" textLength="95.10" lengthAdjust="spacing">INSPECTION</text>
<text transform="scale(0.8,1)" x="276.77" y="181.0" font-size="14.53" stroke="#000" stroke-width="0.5" textLength="86.56" lengthAdjust="spacing">CONVEYOR</text>
<text transform="scale(0.8,1)" x="441.57" y="181.0" font-size="14.66" stroke="#000" stroke-width="0.5" textLength="80.88" lengthAdjust="spacing">ELEVATOR</text>
<text transform="scale(0.8,1)" x="573.40" y="182.96" font-size="14.53" stroke="#000" stroke-width="0.5" textLength="43.35" lengthAdjust="spacing">FRUIT</text>
<text transform="scale(0.9,1)" x="519.60" y="197.46" font-size="14.53" stroke="#000" stroke-width="0.5" textLength="31.97" lengthAdjust="spacing">MILL</text>
<text transform="scale(0.74,1)" x="723.43" y="181.0" font-size="10.68" stroke="#000" stroke-width="0.5" textLength="26.11" lengthAdjust="spacing">HOT</text>
<text transform="scale(0.72,1)" x="712.92" y="192.38" font-size="12.44" stroke="#000" stroke-width="0.5" textLength="43.92" lengthAdjust="spacing">BREAK</text>
<text transform="scale(0.72,1)" x="768.06" y="192.38" font-size="12.44" stroke="#000" stroke-width="0.5" textLength="33.29" lengthAdjust="spacing">TANK</text>
<text transform="scale(0.74,1)" x="821.62" y="179.0" font-size="11.63" stroke="#000" stroke-width="0.5" textLength="31.38" lengthAdjust="spacing">HEAT</text>
<text transform="scale(0.72,1)" x="821.36" y="189.54" font-size="11.57" stroke="#000" stroke-width="0.5" textLength="79.24" lengthAdjust="spacing">EXCHANGER</text>
<text transform="scale(0.8,1)" x="857.87" y="182.5" font-size="14.63" stroke="#000" stroke-width="0.5" textLength="61.86" lengthAdjust="spacing">PULPER</text>
<text transform="scale(0.8,1)" x="941.62" y="182.5" font-size="14.63" stroke="#000" stroke-width="0.5" textLength="61.86" lengthAdjust="spacing">PULPER</text>
<text transform="scale(0.9,1)" x="847.04" y="197.0" font-size="13.8" stroke="#000" stroke-width="0.5" textLength="36.32" lengthAdjust="spacing">TANK</text>
<text transform="scale(0.8,1)" x="1016.72" y="182.5" font-size="14.63" stroke="#000" stroke-width="0.5" textLength="44.05" lengthAdjust="spacing">PUMP</text>
<text transform="scale(0.8,1)" x="1079.75" y="184.54" font-size="14.53" stroke="#000" stroke-width="0.5" textLength="55.80" lengthAdjust="spacing">MIXING</text>
<text transform="scale(0.9,1)" x="967.31" y="198.46" font-size="14.0" stroke="#000" stroke-width="0.5" textLength="34.86" lengthAdjust="spacing">TANK</text>
<text transform="scale(0.8,1)" x="1165.95" y="183.04" font-size="13.88" stroke="#000" stroke-width="0.5" textLength="44.97" lengthAdjust="spacing">PUMP</text>
<text transform="scale(0.8,1)" x="354.27" y="400.5" font-size="13.08" stroke="#000" stroke-width="0.5" textLength="70.00" lengthAdjust="spacing">COOLING</text>
<text transform="scale(0.8,1)" x="363.12" y="415.0" font-size="13.88" stroke="#000" stroke-width="0.5" textLength="54.11" lengthAdjust="spacing">TOWER</text>
<text transform="scale(0.8,1)" x="433.85" y="402.58" font-size="13.8" stroke="#000" stroke-width="0.5" textLength="51.91" lengthAdjust="spacing">WATER</text>
<text transform="scale(0.8,1)" x="497.20" y="402.58" font-size="13.8" stroke="#000" stroke-width="0.5" textLength="55.61" lengthAdjust="spacing">PUMPS</text>
<text transform="scale(0.74,1)" x="612.16" y="403.58" font-size="9.63" stroke="#000" stroke-width="0.5" textLength="78.11" lengthAdjust="spacing">CONDENSER</text>
<text transform="scale(0.8,1)" x="646.88" y="400.96" font-size="13.95" stroke="#000" stroke-width="0.5" textLength="66.90" lengthAdjust="spacing">VACUUM</text>
<text transform="scale(0.8,1)" x="657.35" y="415.38" font-size="13.88" stroke="#000" stroke-width="0.5" textLength="44.07" lengthAdjust="spacing">PUMP</text>
<text transform="scale(0.8,1)" x="751.10" y="401.54" font-size="14.67" stroke="#000" stroke-width="0.5" textLength="59.44" lengthAdjust="spacing">FILLING</text>
<text transform="scale(0.8,1)" x="818.75" y="401.54" font-size="14.67" stroke="#000" stroke-width="0.5" textLength="117.51" lengthAdjust="spacing">&amp;</text>
<text transform="scale(0.8,1)" x="734.33" y="417.62" font-size="15.52" stroke="#000" stroke-width="0.5" textLength="69.22" lengthAdjust="spacing">CAPPING</text>
<text transform="scale(1.0,1)" x="651.18" y="417.62" font-size="14.18" stroke="#000" stroke-width="0.5" textLength="29.31" lengthAdjust="spacing">M/C</text>
<text transform="scale(0.8,1)" x="877.15" y="402.04" font-size="15.52" stroke="#000" stroke-width="0.5" textLength="59.41" lengthAdjust="spacing">BOTTLE</text>
<text transform="scale(0.8,1)" x="872.60" y="416.54" font-size="15.52" stroke="#000" stroke-width="0.5" textLength="71.71" lengthAdjust="spacing">WASHING</text>
<text transform="scale(0.9,1)" x="846.58" y="402.42" font-size="15.52" stroke="#000" stroke-width="0.5" textLength="37.40" lengthAdjust="spacing">TANK</text>
<text transform="scale(0.8,1)" x="1003.45" y="406.58" font-size="14.67" stroke="#000" stroke-width="0.5" textLength="44.73" lengthAdjust="spacing">PUMP</text>
<text transform="scale(0.8,1)" x="1072.55" y="401.04" font-size="14.66" stroke="#000" stroke-width="0.5" textLength="66.02" lengthAdjust="spacing">VACUUM</text>
<text transform="scale(0.95,1)" x="917.24" y="415.58" font-size="13.08" stroke="#000" stroke-width="0.5" textLength="26.49" lengthAdjust="spacing">PAN</text>
<text transform="scale(0.8,1)" x="1150.37" y="401.42" font-size="14.66" stroke="#000" stroke-width="0.5" textLength="56.60" lengthAdjust="spacing">KETTLE</text>
</svg></body></html>
